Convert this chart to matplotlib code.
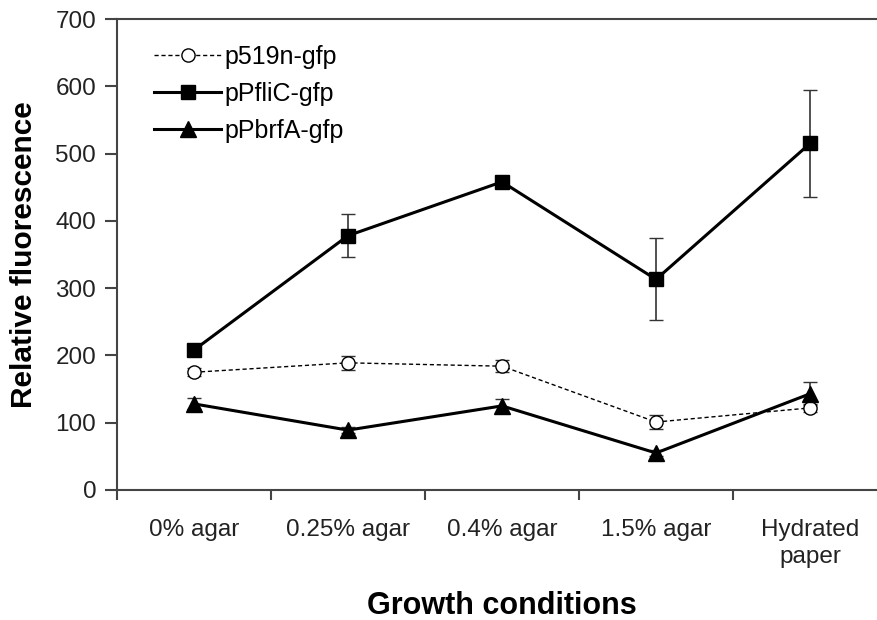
import matplotlib
matplotlib.use("Agg")
import matplotlib.pyplot as plt
from matplotlib.lines import Line2D
import numpy as np

plt.rcParams['font.family'] = ['Liberation Sans', 'DejaVu Sans']

categories = ["0% agar", "0.25% agar", "0.4% agar", "1.5% agar", "Hydrated\npaper"]
p519n = [175, 189, 184, 101, 122]
p519n_err = [6, 10, 9, 10, 6]
pflic = [208, 378, 458, 313, 515]
pflic_err = [6, 32, 6, 61, 79]
pbrfa = [128, 89, 125, 55, 143]
pbrfa_err = [8, 5, 10, 5, 17]

fig = plt.figure(figsize=(8.78, 6.2), dpi=100)
ax = fig.add_axes([117/878, 1-490/620, 770/878, 471/620])

x = np.arange(len(categories)) + 0.5
ecol = '#333333'
ax.errorbar(x, p519n, yerr=p519n_err, color='black', linestyle='--', linewidth=1,
            marker='o', markersize=9.5, markerfacecolor='white', markeredgecolor='black',
            markeredgewidth=1, ecolor=ecol, elinewidth=1.2, capsize=5, dashes=(3, 2))
ax.errorbar(x, pflic, yerr=pflic_err, color='black', linestyle='-', linewidth=2.2,
            marker='s', markersize=10.5, ecolor=ecol, elinewidth=1.2, capsize=5)
ax.errorbar(x, pbrfa, yerr=pbrfa_err, color='black', linestyle='-', linewidth=2.2,
            marker='^', markersize=11.5, ecolor=ecol, elinewidth=1.2, capsize=5)

ax.set_xlim(0, 5)
ax.set_ylim(0, 700)
ax.set_yticks(range(0, 701, 100))
ax.set_xticks(range(0, 6))
ax.set_xticklabels([])
ax.set_xticks(x, minor=True)
ax.set_xticklabels(categories, minor=True, fontsize=17.5, color='#222222', linespacing=1.3)
ax.tick_params(axis='x', which='minor', length=0, pad=21)
ax.tick_params(axis='x', which='major', length=7, width=1.5, color='#444444')
ax.tick_params(axis='y', length=9, width=1.5, color='#444444', labelsize=17.5, labelcolor='#222222', pad=6)

for s in ['left', 'bottom', 'top']:
    ax.spines[s].set_color('#444444')
    ax.spines[s].set_linewidth(1.5)
ax.spines['right'].set_visible(False)

ax.set_ylabel('Relative fluorescence', fontsize=21.5, fontweight='bold')
ax.yaxis.set_label_coords(-(117 - 38) / 770, 0.5)
ax.set_xlabel('Growth conditions', fontsize=22, fontweight='bold')
ax.xaxis.set_label_coords((502 - 117) / 770, -(591 - 490) / 471)

handles = [
    Line2D([], [], color='black', linestyle='--', dashes=(3, 2), linewidth=1, marker='o',
           markersize=9.5, markerfacecolor='white', markeredgecolor='black'),
    Line2D([], [], color='black', linewidth=2.2, marker='s', markersize=10.5),
    Line2D([], [], color='black', linewidth=2.2, marker='^', markersize=11.5),
]
labels = ['p519n-gfp', 'pPfliC-gfp', 'pPbrfA-gfp']
ax.legend(handles, labels, loc='upper left', bbox_to_anchor=(0.035, 0.967), frameon=False,
          fontsize=18, handlelength=2.7, handletextpad=0.12, labelspacing=0.53, borderaxespad=0)

fig.savefig('out.png', dpi=100)
